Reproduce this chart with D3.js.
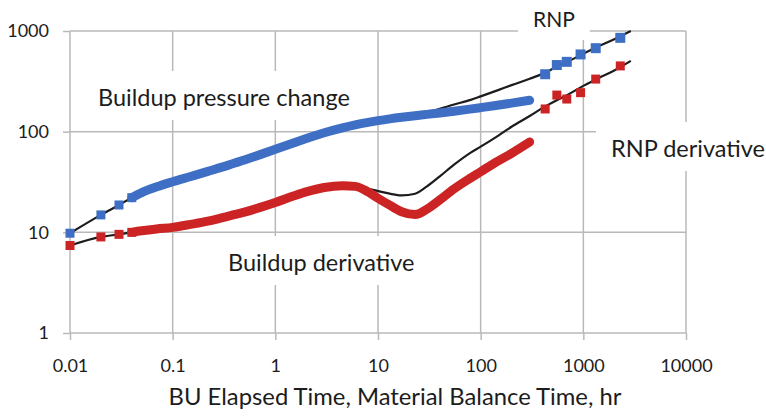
<!DOCTYPE html>
<html>
<head>
<meta charset="utf-8">
<script src="https://cdn.jsdelivr.net/npm/d3@7"></script>
<style>
  html, body { margin: 0; padding: 0; background: #fff; }
  svg { display: block; font-family: Lato, "Open Sans", sans-serif; }
</style>
</head>
<body>
<svg id="chart" width="766" height="418"></svg>
<script>
// Buildup test: elapsed time (hr), pressure change and Bourdet derivative
const buildupTime = [0.01, 0.02, 0.03, 0.04, 0.05, 0.07, 0.1, 0.15, 0.22, 0.35, 0.5, 0.7, 1, 1.5, 2, 3, 4.5, 6, 8, 10, 13, 17, 23, 30, 40, 55, 75, 100, 140, 200, 300];
const buildupPressure = [9.8, 14.9, 18.7, 22.1, 24.8, 28.3, 31.8, 35.9, 40.3, 46.5, 52.4, 58.8, 66.7, 77.1, 85.3, 97.5, 109, 116.7, 123.6, 128.6, 134, 139, 144.2, 148.6, 153.5, 159.7, 166.4, 173.3, 182, 192, 205];
const buildupDerivative = [7.4, 9.0, 9.55, 10, 10.35, 10.8, 11.2, 12.0, 12.9, 14.5, 15.9, 17.6, 19.8, 22.9, 25.2, 27.9, 29.0, 28.6, 25.2, 21.8, 18.6, 16.0, 15.0, 17, 21, 27, 33.3, 40, 49.5, 61, 79];

// Rate-normalized pressure (RNP) from production data, plotted against material balance time
const rnpTime = [425, 552, 690, 940, 1320, 2290];
const rnpPressure = [372, 459, 494, 585, 675, 855];
const rnpDerivative = [168, 231, 211, 244, 333, 450];

// Continuous RNP and RNP-derivative curves
const curveTime = [0.01, 0.02, 0.03, 0.04, 0.07, 0.1, 0.22, 0.5, 1, 2, 4.5, 6, 8, 10, 13, 17, 23, 30, 40, 55, 80, 100, 150, 200, 300, 400, 550, 700, 1000, 1400, 2000, 2900];
const curvePressure = [9.8, 14.9, 18.7, 22.1, 28.3, 31.8, 40.3, 52.4, 66.7, 85.3, 109, 116.7, 123.6, 128.6, 134, 139.5, 146.5, 156, 169, 186, 207, 224, 260, 290, 335, 375, 440, 495, 595, 705, 830, 1000];
const curveDerivative = [7.4, 9.0, 9.55, 10, 10.8, 11.2, 12.9, 15.9, 19.8, 25.2, 29.0, 28.6, 27.1, 25.7, 24.2, 23.3, 24.2, 28.6, 36, 47, 62, 71, 92, 112, 143, 172, 205, 232, 285, 340, 405, 505];

// Axis ticks and titles
const xTicks = [0.01, 0.1, 1, 10, 100, 1000, 10000];
const xTickLabels = ["0.01", "0.1", "1", "10", "100", "1000", "10000"];
const yTicks = [1, 10, 100, 1000];
const yTickLabels = ["1", "10", "100", "1000"];
const xTitle = "BU Elapsed Time, Material Balance Time, hr";
const seriesNames = ["Buildup pressure change", "Buildup derivative", "RNP", "RNP derivative"];

const BLUE = "#3f6fc4", RED = "#cc2424", INK = "#1c1c1c", GRID = "#b9b9b9";

const svg = d3.select("#chart");
const plot = { left: 70, right: 686, top: 31, bottom: 333 };
const tick = 7;

const x = d3.scaleLog().domain([0.01, 10000]).range([plot.left, plot.right]);
const y = d3.scaleLog().domain([1, 1000]).range([plot.bottom, plot.top]);

// Gridlines at each decade
const grid = svg.append("g").attr("stroke", GRID).attr("stroke-width", 1.5);
grid.selectAll("line.v").data(xTicks).join("line").attr("class", "v")
  .attr("x1", d => x(d)).attr("x2", d => x(d))
  .attr("y1", plot.top).attr("y2", plot.bottom);
grid.selectAll("line.h").data(yTicks).join("line").attr("class", "h")
  .attr("x1", plot.left).attr("x2", plot.right)
  .attr("y1", d => y(d)).attr("y2", d => y(d));

// Tick marks and labels through D3 axes
const yAxis = svg.append("g").attr("transform", `translate(${plot.left},0)`)
  .call(d3.axisLeft(y).tickValues(yTicks).tickFormat((d, i) => yTickLabels[i]).tickSize(tick).tickPadding(14));
const xAxis = svg.append("g").attr("transform", `translate(0,${plot.bottom})`)
  .call(d3.axisBottom(x).tickValues(xTicks).tickFormat((d, i) => xTickLabels[i]).tickSize(tick).tickPadding(19));
[xAxis, yAxis].forEach(a => {
  a.select(".domain").remove();
  a.selectAll(".tick line").attr("stroke", GRID).attr("stroke-width", 1.5);
  a.selectAll("text").attr("fill", INK).style("font-family", "Lato, sans-serif").style("font-size", "18px");
});

svg.append("text")
  .attr("x", 395).attr("y", 405)
  .attr("text-anchor", "middle")
  .attr("fill", INK).style("font-size", "23.8px")
  .text(xTitle);

// Series labels sit on white boxes that break the gridlines
const labelLayer = svg.append("g");
const labelSpots = [
  { x: 98, y: 106, size: 23.5 },
  { x: 228, y: 271, size: 23.5 },
  { x: 533, y: 27, size: 21 },
  { x: 611, y: 157, size: 23.5 }
];
seriesNames.forEach((name, i) => {
  const s = labelSpots[i];
  const g = labelLayer.append("g");
  const t = g.append("text").attr("x", s.x).attr("y", s.y)
    .attr("fill", INK).style("font-size", s.size + "px").text(name);
  const b = t.node().getBBox();
  g.insert("rect", "text")
    .attr("x", b.x - 15).attr("y", b.y - 12)
    .attr("width", b.width + 30).attr("height", b.height + 21)
    .attr("fill", "#fff");
});

const line = d3.line().x(d => x(d[0])).y(d => y(d[1])).curve(d3.curveMonotoneX);
const pairs = (ts, vs) => ts.map((t, i) => [t, vs[i]]);

// RNP curves (the dense buildup bands sit on top of them)
svg.append("path").attr("d", line(pairs(curveTime, curvePressure)))
  .attr("fill", "none").attr("stroke", INK).attr("stroke-width", 2.2);
svg.append("path").attr("d", line(pairs(curveTime, curveDerivative)))
  .attr("fill", "none").attr("stroke", INK).attr("stroke-width", 2.2);

// Dense buildup data drawn as a thick band, first samples as separate squares
const denseFrom = 3;
const buP = pairs(buildupTime, buildupPressure);
const buD = pairs(buildupTime, buildupDerivative);
svg.append("path").attr("d", line(buP.slice(denseFrom)))
  .attr("fill", "none").attr("stroke", BLUE).attr("stroke-width", 9).attr("stroke-linecap", "round");
svg.append("path").attr("d", line(buD.slice(denseFrom)))
  .attr("fill", "none").attr("stroke", RED).attr("stroke-width", 9).attr("stroke-linecap", "round");

// Square markers
const markers = [
  { pts: buP.slice(0, denseFrom + 1), color: BLUE, size: 9 },
  { pts: buD.slice(0, denseFrom + 1), color: RED, size: 9 },
  { pts: pairs(rnpTime, rnpPressure), color: BLUE, size: 10 },
  { pts: pairs(rnpTime, rnpDerivative), color: RED, size: 9 }
];
markers.forEach(m => {
  svg.append("g").selectAll("rect").data(m.pts).join("rect")
    .attr("x", d => x(d[0]) - m.size / 2).attr("y", d => y(d[1]) - m.size / 2)
    .attr("width", m.size).attr("height", m.size).attr("fill", m.color);
});
</script>
</body>
</html>
